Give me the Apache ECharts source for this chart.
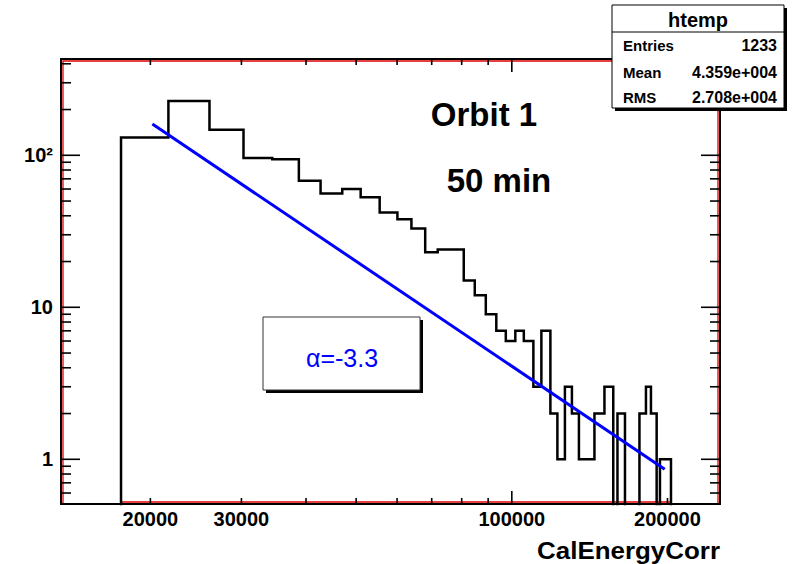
<!DOCTYPE html>
<html><head><meta charset="utf-8">
<script src="https://cdn.jsdelivr.net/npm/echarts@6/dist/echarts.min.js"></script>
<style>html,body{margin:0;padding:0;background:#fff;} #c{width:794px;height:564px;}</style>
</head><body><div id="c"></div>
<script>
// ---------------- data ----------------
const binEdges = [17550, 21672, 26022, 30278, 34414, 38742, 42675, 47003, 51015, 55522,
  60086, 63953, 68000, 71899, 76183, 80737, 84798, 89062, 93328, 97360,
  101573, 105495, 110078, 114071, 118741, 122506, 126673, 130689, 134831, 139724,
  144478, 151060, 157106, 160075, 165516, 176536, 181720, 185814, 190590, 193413, 203150];
const binCounts = [131, 228, 147, 96, 94, 68, 56, 60, 53, 42,
  38, 33, 23, 24, 24, 15, 12, 9, 7, 6,
  7, 6, 3, 7, 2, 1, 3, 2, 1, 1,
  2, 3, 0, 2, 0, 2, 3, 2, 0, 1];
const fitX = [20180, 197550];
const fitY = [160.6, 0.861];
const xRange = [13434, 252700];
const yRange = [0.508, 430];
const xLabelTicks = [20000, 30000, 100000, 200000];
const xMinorTicks = [20000, 30000, 40000, 50000, 60000, 70000, 80000, 90000, 200000];
const xMajorTicks = [100000];
const yLabelTicks = [1, 10, 100];
const yMinorTicks = [0.6, 0.7, 0.8, 0.9, 2, 3, 4, 5, 6, 7, 8, 9, 20, 30, 40, 50, 60, 70, 80, 90, 200, 300, 400];
const statsTitle = 'htemp';
const statsLabels = ['Entries', 'Mean', 'RMS'];
const statsValues = ['1233', '4.359e+004', '2.708e+004'];
const annotTexts = ['Orbit 1', '50 min'];
const fitLabel = 'α=-3.3';
const xTitle = 'CalEnergyCorr';

// ---------------- layout ----------------
const G = {left: 61, top: 59, width: 659, height: 445};
const gR = G.left + G.width, gB = G.top + G.height;
const FONT = '"Liberation Sans", Arial, Helvetica, sans-serif';
const TICK = {xMinor: 6, xMajor: 13, yMinor: 10, yMajor: 19};

// histogram outline built from edges/counts
const ZERO = yRange[0] * 0.2;
const histPts = [[binEdges[0], ZERO]];
binCounts.forEach((c, i) => {
  const v = c > 0 ? c : ZERO;
  histPts.push([binEdges[i], v]);
  histPts.push([binEdges[i + 1], v]);
});
histPts.push([binEdges[binEdges.length - 1], ZERO]);
const redBase = [[binEdges[0], yRange[0] * 1.03], [binEdges[binEdges.length - 1], yRange[0] * 1.03]];

const chart = echarts.init(document.getElementById('c'), null, {renderer: 'svg'});

function buildOption() {
  const statsGraphics = [];
  const bx = 612, by = 5, bw = 172, bh = 103;
  statsGraphics.push({type: 'rect', z: 100, shape: {x: bx + 3, y: by + 3, width: bw, height: bh}, style: {fill: '#000'}});
  statsGraphics.push({type: 'rect', z: 101, shape: {x: bx, y: by, width: bw, height: bh}, style: {fill: '#fff', stroke: '#000', lineWidth: 1}});
  statsGraphics.push({type: 'line', z: 102, shape: {x1: bx, y1: 32, x2: bx + bw, y2: 32}, style: {stroke: '#000', lineWidth: 1}});
  statsGraphics.push({type: 'text', z: 102, x: bx + bw / 2, y: 20, style: {text: statsTitle, font: 'bold 20px ' + FONT, fill: '#000', align: 'center', verticalAlign: 'middle'}});
  const rowY = [45, 72, 97];
  statsLabels.forEach((t, i) => {
    statsGraphics.push({type: 'text', z: 102, x: 623, y: rowY[i], style: {text: t, font: 'bold 15px ' + FONT, fill: '#000', align: 'left', verticalAlign: 'middle'}});
    statsGraphics.push({type: 'text', z: 102, x: 777, y: rowY[i], style: {text: statsValues[i], font: 'bold 16px ' + FONT, fill: '#000', align: 'right', verticalAlign: 'middle'}});
  });
  return {
    animation: false,
    backgroundColor: '#fff',
    grid: {left: G.left, top: G.top, width: G.width, height: G.height, containLabel: false,
      show: true, borderColor: '#000', borderWidth: 2, backgroundColor: 'transparent'},
    xAxis: {
      type: 'log', logBase: 10, min: xRange[0], max: xRange[1], position: 'bottom',
      axisLine: {show: false}, axisTick: {show: false},
      axisLabel: {
        show: true, customValues: xLabelTicks, margin: 5,
        color: '#000', fontFamily: FONT, fontWeight: 'bold', fontSize: 20,
        formatter: v => String(Math.round(v))
      },
      splitLine: {show: false}, minorTick: {show: false}, minorSplitLine: {show: false}
    },
    yAxis: {
      type: 'log', logBase: 10, min: yRange[0], max: yRange[1], position: 'left',
      axisLine: {show: false}, axisTick: {show: false},
      axisLabel: {
        show: true, customValues: yLabelTicks, margin: 8,
        color: '#000', fontFamily: FONT, fontWeight: 'bold', fontSize: 20,
        formatter: v => { const r = Math.round(v); return r === 100 ? '10²' : String(r); }
      },
      splitLine: {show: false}, minorTick: {show: false}, minorSplitLine: {show: false}
    },
    series: [
      {type: 'line', name: 'frame', data: redBase, showSymbol: false, symbol: 'none',
        lineStyle: {color: '#e00000', width: 1.5}, z: 1, silent: true, clip: true},
      {type: 'line', name: 'htemp', data: histPts, showSymbol: false, symbol: 'none',
        lineStyle: {color: '#000', width: 2.5, join: 'miter'}, z: 3, silent: true, clip: true},
      {type: 'line', name: 'fit', data: fitX.map((x, i) => [x, fitY[i]]), showSymbol: false, symbol: 'none',
        lineStyle: {color: '#0000ff', width: 3}, z: 4, silent: true, clip: true}
    ],
    graphic: [
      {type: 'polyline', z: 1, silent: true, shape: {points: [[G.left + 2, gB - 1], [G.left + 2, G.top + 2], [gR - 2, G.top + 2], [gR - 2, gB - 1]]},
        style: {stroke: '#e00000', lineWidth: 1.3, fill: null}},
      {type: 'text', z: 50, x: 484, y: 114, style: {text: annotTexts[0], font: 'bold 33px ' + FONT, fill: '#000', align: 'center', verticalAlign: 'middle'}},
      {type: 'text', z: 50, x: 499, y: 180, style: {text: annotTexts[1], font: 'bold 33px ' + FONT, fill: '#000', align: 'center', verticalAlign: 'middle'}},
      {type: 'rect', z: 50, shape: {x: 266, y: 320, width: 157, height: 73}, style: {fill: '#000'}},
      {type: 'rect', z: 51, shape: {x: 263, y: 317, width: 157, height: 73}, style: {fill: '#fff', stroke: '#333', lineWidth: 1}},
      {type: 'text', z: 52, x: 342, y: 358, style: {text: fitLabel, font: '25px ' + FONT, fill: '#0000ff', align: 'center', verticalAlign: 'middle'}},
      {type: 'text', z: 50, x: gR, y: 550, scaleX: 1.08, style: {text: xTitle, font: 'bold 24px ' + FONT, fill: '#000', align: 'right', verticalAlign: 'middle'}}
    ].concat(statsGraphics)
  };
}
chart.setOption(buildOption());

// tick marks on all four sides, placed with the axes' own scales (convertToPixel)
const tickEls = [];
const tStyle = {stroke: '#000', lineWidth: 1.6};
function addX(v, len) {
  const px = chart.convertToPixel({xAxisIndex: 0}, v);
  tickEls.push({type: 'line', z: 40, silent: true, shape: {x1: px, y1: gB, x2: px, y2: gB - len}, style: tStyle});
  tickEls.push({type: 'line', z: 40, silent: true, shape: {x1: px, y1: G.top, x2: px, y2: G.top + len}, style: tStyle});
}
function addY(v, len) {
  const py = chart.convertToPixel({yAxisIndex: 0}, v);
  tickEls.push({type: 'line', z: 40, silent: true, shape: {x1: G.left, y1: py, x2: G.left + len, y2: py}, style: tStyle});
  tickEls.push({type: 'line', z: 40, silent: true, shape: {x1: gR, y1: py, x2: gR - len, y2: py}, style: tStyle});
}
xMinorTicks.forEach(v => addX(v, TICK.xMinor));
xMajorTicks.forEach(v => addX(v, TICK.xMajor));
yMinorTicks.forEach(v => addY(v, TICK.yMinor));
yLabelTicks.forEach(v => addY(v, TICK.yMajor));
const opt = buildOption();
opt.graphic = opt.graphic.concat(tickEls);
chart.setOption(opt, true);
</script>
</body></html>
